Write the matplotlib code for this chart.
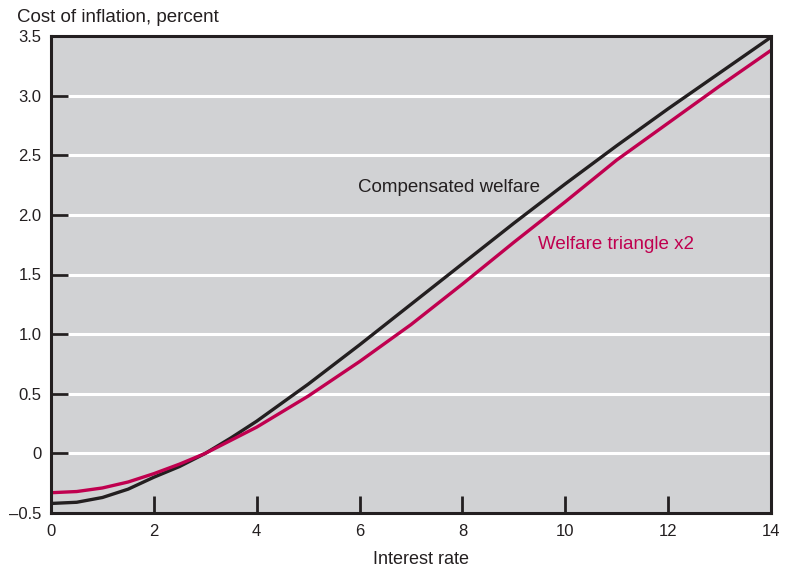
import matplotlib
matplotlib.use('Agg')
import matplotlib.pyplot as plt

plt.rcParams['font.family'] = ['Liberation Sans', 'DejaVu Sans']

# Interest rate (x) and cost of inflation, percent (y)
rate = [0, 0.5, 1, 1.5, 2, 2.5, 3, 3.5, 4, 5, 6, 7, 8, 9, 10, 11, 12, 13, 14]
compensated = [-0.42, -0.41, -0.37, -0.30, -0.20, -0.11, 0.0, 0.13, 0.27,
               0.58, 0.91, 1.25, 1.59, 1.93, 2.26, 2.58, 2.89, 3.19, 3.49]
triangle_x2 = [-0.33, -0.32, -0.29, -0.24, -0.17, -0.09, 0.0, 0.11, 0.22,
               0.48, 0.77, 1.08, 1.42, 1.77, 2.11, 2.46, 2.77, 3.08, 3.38]

yticks = [-0.5, 0, 0.5, 1.0, 1.5, 2.0, 2.5, 3.0, 3.5]
ylabels = ['\u20130.5', '0', '0.5', '1.0', '1.5', '2.0', '2.5', '3.0', '3.5']
xticks = [0, 2, 4, 6, 8, 10, 12, 14]

ink = '#231f20'
red = '#c0004f'

fig = plt.figure(figsize=(7.86, 5.70), dpi=100)
ax = fig.add_axes([51/786, 1 - 513/570, 720/786, 477/570])
ax.set_facecolor('#d1d2d4')

for g in [0, 0.5, 1.0, 1.5, 2.0, 2.5, 3.0]:
    ax.axhline(g, color='white', lw=2.2, zorder=1)

ax.plot(rate, compensated, color=ink, lw=2.4, zorder=3)
ax.plot(rate, triangle_x2, color=red, lw=2.4, zorder=3)

ax.set_xlim(0, 14)
ax.set_ylim(-0.5, 3.5)
ax.set_xticks(xticks)
ax.set_yticks(yticks)
ax.set_yticklabels(ylabels)
ax.tick_params(direction='in', length=12.5, width=2, color=ink,
               labelsize=12, labelcolor=ink)
ax.tick_params(axis='x', pad=8)
ax.tick_params(axis='y', pad=7)
for s in ax.spines.values():
    s.set_linewidth(2.2)
    s.set_color(ink)
    s.set_zorder(4)

ax.text(5.96, 2.23, 'Compensated welfare', color=ink, fontsize=13.5, va='center')
ax.text(9.47, 1.75, 'Welfare triangle x2', color=red, fontsize=13.5, va='center')

fig.text(17/786, 1 - 18/570, 'Cost of inflation, percent', color=ink,
         fontsize=13.5, va='center', ha='left')
fig.text(421/786, 1 - 560/570, 'Interest rate', color=ink,
         fontsize=13, va='center', ha='center')

fig.savefig('out.png', dpi=100)
